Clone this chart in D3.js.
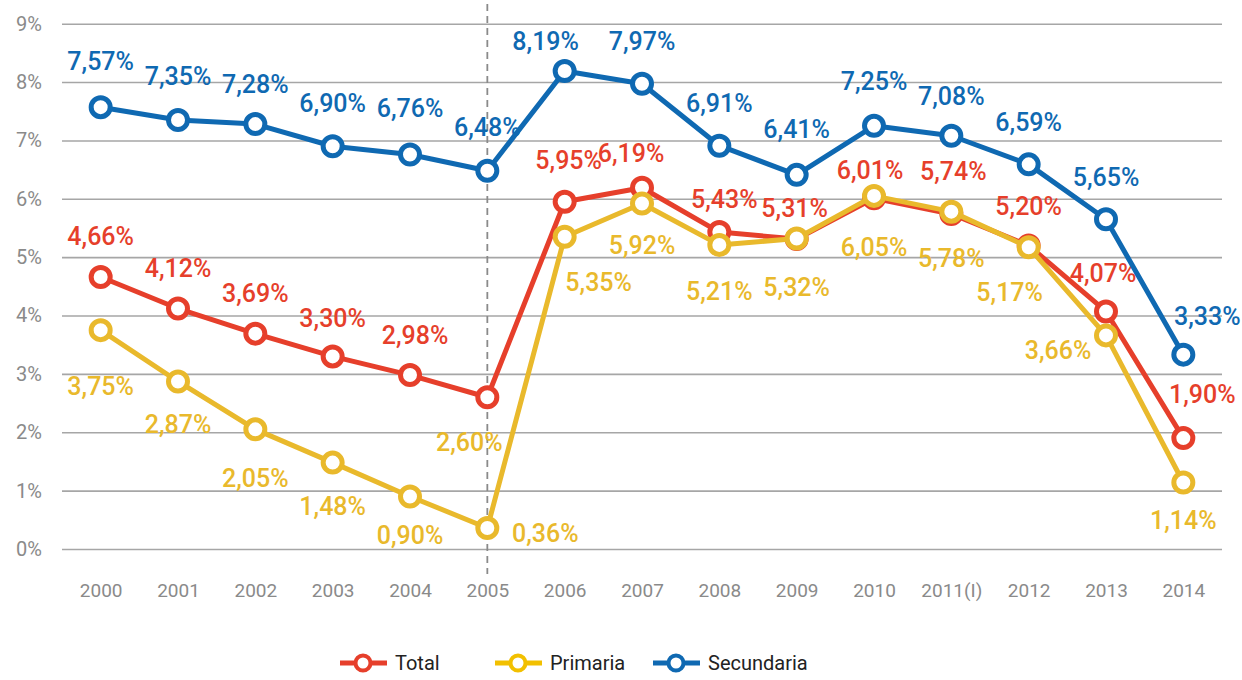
<!DOCTYPE html>
<html>
<head>
<meta charset="utf-8">
<script src="https://cdn.jsdelivr.net/npm/d3@7"></script>
<style>
	body { margin: 0; background: #fff; }
	svg text { font-family: Roboto, "Liberation Sans", sans-serif; }
</style>
</head>
<body>
<svg id="graph"></svg>
<script>
var years = ["2000", "2001", "2002", "2003", "2004", "2005", "2006", "2007", "2008", "2009", "2010", "2011(I)", "2012", "2013", "2014"];
var yTicks = [0, 1, 2, 3, 4, 5, 6, 7, 8, 9];

var total = [4.66, 4.12, 3.69, 3.30, 2.98, 2.60, 5.95, 6.19, 5.43, 5.31, 6.01, 5.74, 5.20, 4.07, 1.90];
var primaria = [3.75, 2.87, 2.05, 1.48, 0.90, 0.36, 5.35, 5.92, 5.21, 5.32, 6.05, 5.78, 5.17, 3.66, 1.14];
var secundaria = [7.57, 7.35, 7.28, 6.90, 6.76, 6.48, 8.19, 7.97, 6.91, 6.41, 7.25, 7.08, 6.59, 5.65, 3.33];

// 各ラベルの位置 (点からのずれ)
var totalLabelDx = [0, 0, 0, 0, 5, -18, 4, -11, 5, -2, -4, 2, 0, -3, 19];
var totalLabelDy = [-41, -40, -40, -38, -40, 45, -41, -34, -33, -31, -28, -42, -39, -38, -44];
var primariaLabelDx = [0, 0, 0, 0, 0, 58, 34, 0, 0, 0, 0, 0, -19, -48, 0];
var primariaLabelDy = [56, 43, 49, 44, 39, 6, 46, 42, 47, 49, 52, 47, 45, 15, 38];
var secundariaLabelDx = [0, 0, 0, 0, 0, 0, -19, 0, 0, 0, 0, 0, 0, 0, 24];
var secundariaLabelDy = [-46, -44, -40, -43, -46, -43, -29, -42, -42, -45, -44, -39, -42, -42, -38];

var red = "#e63f2b";
var yellow = "#e9b92c";
var blue = "#0f69b2";

var series = [
	{name: "Total", values: total, color: red, dx: totalLabelDx, dy: totalLabelDy, legendColor: "#e63f2b"},
	{name: "Primaria", values: primaria, color: yellow, dx: primariaLabelDx, dy: primariaLabelDy, legendColor: "#f2c000"},
	{name: "Secundaria", values: secundaria, color: blue, dx: secundariaLabelDx, dy: secundariaLabelDy, legendColor: "#0f69b2"}
];

var width = 1242, height = 680;
var plotLeft = 62, plotRight = 1222, plotTop = 23.7, plotBottom = 549;

var svg = d3.select("#graph")
	.attr("width", width)
	.attr("height", height);

var x = d3.scalePoint().domain(years).range([plotLeft, plotRight]).padding(0.5);
var y = d3.scaleLinear().domain([0, 9]).range([plotBottom, plotTop]);

// 目盛り線
var yAxis = d3.axisLeft(y)
	.tickValues(yTicks)
	.tickSizeInner(-(plotRight - plotLeft))
	.tickSizeOuter(0)
	.tickFormat(function (d) { return d + "%"; });
var gy = svg.append("g")
	.attr("transform", "translate(" + plotLeft + ",0)")
	.call(yAxis);
gy.select(".domain").remove();
gy.selectAll("line").attr("stroke", "#a6a6a6").attr("stroke-width", 1.6);
gy.selectAll("text")
	.attr("fill", "#8a8a8a")
	.attr("font-size", 20)
	.attr("x", -20);

var xAxis = d3.axisBottom(x).tickSize(0).tickPadding(0);
var gx = svg.append("g")
	.attr("transform", "translate(0,590)")
	.call(xAxis);
gx.select(".domain").remove();
gx.selectAll("text")
	.attr("fill", "#8a8a8a")
	.attr("font-size", 19)
	.attr("dy", "0.35em");

// 2005年の区切り線
svg.append("line")
	.attr("x1", x("2005")).attr("x2", x("2005"))
	.attr("y1", 4).attr("y2", 574)
	.attr("stroke", "#8a8a8a")
	.attr("stroke-width", 1.8)
	.attr("stroke-dasharray", "7,5");

// ラベル
series.forEach(function (s) {
	svg.append("g").selectAll("text")
		.data(s.values)
		.enter().append("text")
		.attr("x", function (d, i) { return x(years[i]) + s.dx[i]; })
		.attr("y", function (d, i) { return y(d) + s.dy[i]; })
		.attr("text-anchor", "middle")
		.attr("dominant-baseline", "central")
		.attr("font-size", 25)
		.attr("font-weight", 500)
		.attr("fill", function (d, i) { return (s.name == "Total" && i == 5) ? yellow : s.color; })
		.text(function (d) { return d.toFixed(2).replace(".", ",") + "%"; });
});

var valueline = d3.line()
	.x(function (d, i) { return x(years[i]); })
	.y(function (d) { return y(d); });

series.forEach(function (s) {
	svg.append("path")
		.datum(s.values)
		.attr("fill", "none")
		.attr("stroke", s.color)
		.attr("stroke-width", 5)
		.attr("stroke-linejoin", "round")
		.attr("d", valueline);

	svg.append("g").selectAll("circle")
		.data(s.values)
		.enter().append("circle")
		.attr("cx", function (d, i) { return x(years[i]); })
		.attr("cy", function (d) { return y(d); })
		.attr("r", 9.5)
		.attr("fill", "#fff")
		.attr("stroke", s.color)
		.attr("stroke-width", 5);
});

// 凡例
var legendX = [340, 495, 653];
var legend = svg.append("g").attr("transform", "translate(0,663)");
series.forEach(function (s, i) {
	var g = legend.append("g").attr("transform", "translate(" + legendX[i] + ",0)");
	g.append("line")
		.attr("x1", 0).attr("x2", 47)
		.attr("stroke", s.legendColor)
		.attr("stroke-width", 5);
	g.append("circle")
		.attr("cx", 23).attr("r", 7.5)
		.attr("fill", "#fff")
		.attr("stroke", s.legendColor)
		.attr("stroke-width", 4);
	g.append("text")
		.attr("x", 55)
		.attr("dy", "0.35em")
		.attr("font-size", 20)
		.attr("fill", "#222")
		.text(s.name);
});
</script>
</body>
</html>
